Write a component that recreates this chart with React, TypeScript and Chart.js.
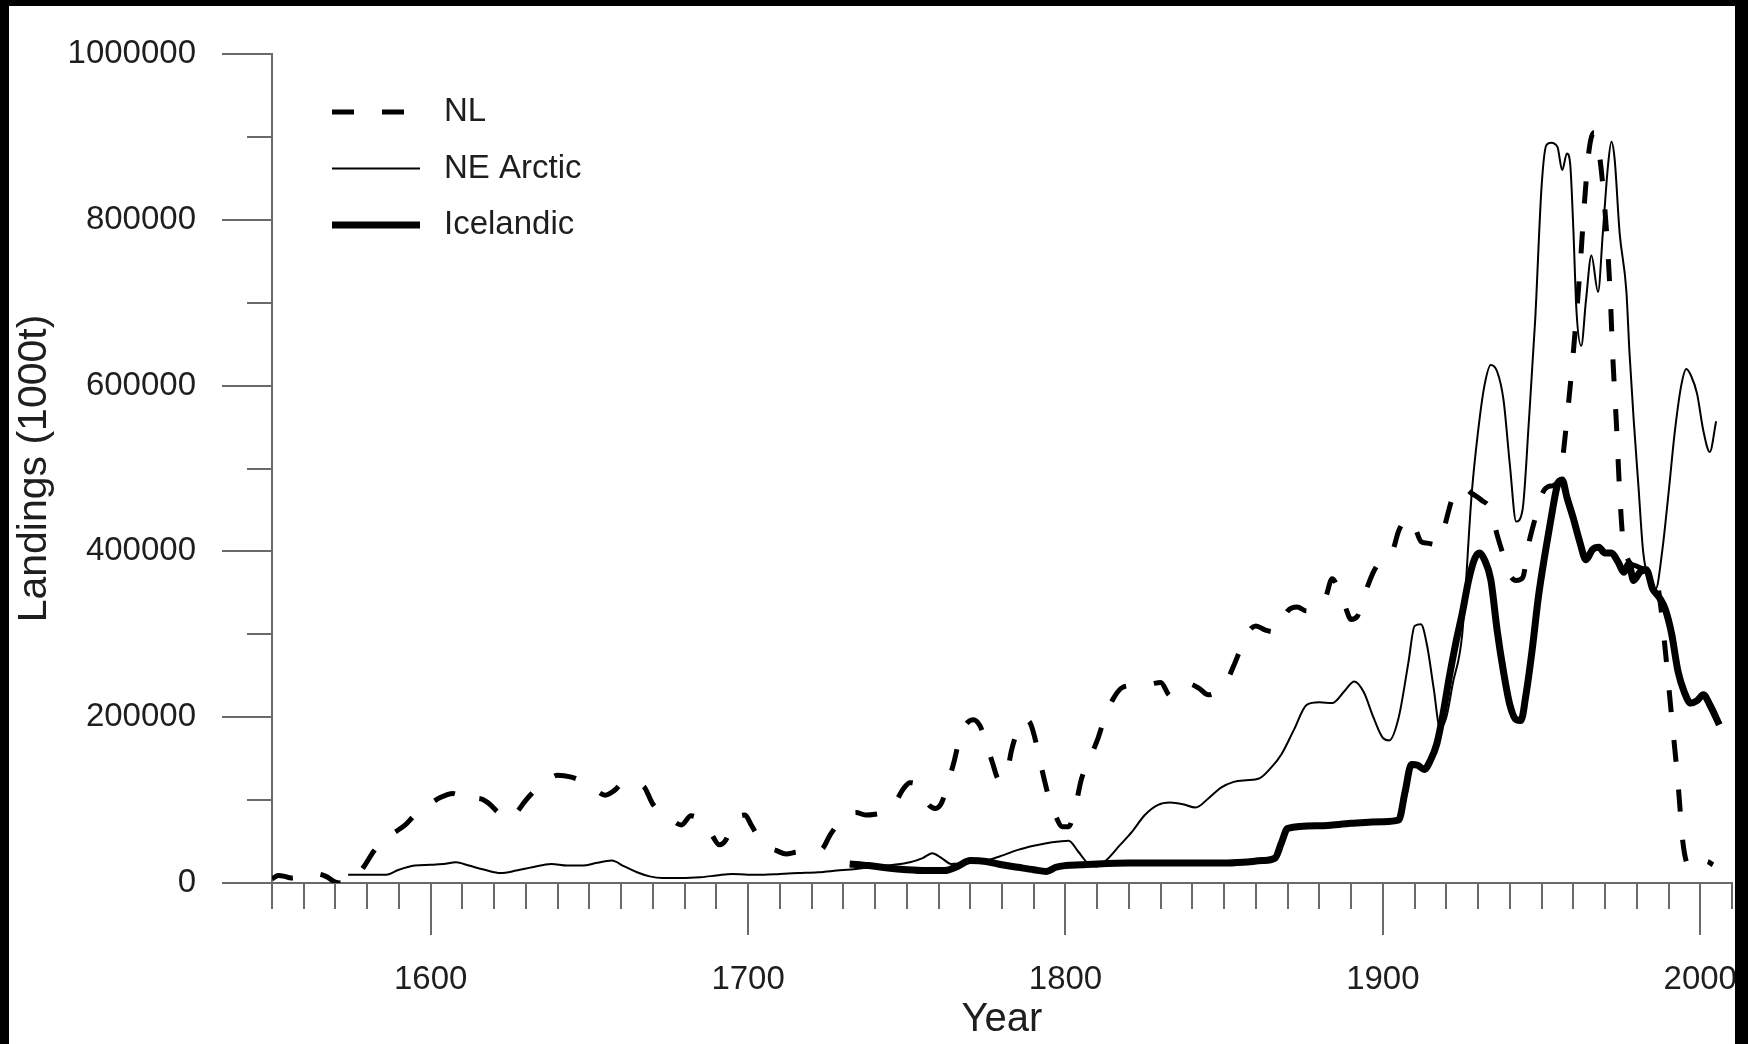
import React, { useEffect, useRef } from 'react';
import { Chart, registerables } from 'chart.js';

Chart.register(...registerables);

// ---- Data (tonnes) ----
const nlYears = [
  1550, 1552, 1554, 1556, 1560, 1564, 1567, 1570, 1573, 1576, 1579, 1582, 1586, 1589, 1592, 1595, 1599, 1603, 1607, 1610,
  1613, 1615, 1618, 1621, 1624, 1627, 1630, 1634, 1637, 1640, 1644, 1648, 1652, 1655, 1658, 1661, 1664, 1667, 1670, 1673,
  1676, 1679, 1682, 1685, 1688, 1691, 1693, 1695, 1697, 1699, 1701, 1703, 1706, 1709, 1712, 1715, 1719, 1723, 1726, 1730,
  1734, 1737, 1740, 1743, 1746, 1749, 1751, 1753, 1755, 1757, 1759, 1761, 1763, 1765, 1767, 1769, 1771, 1773, 1775, 1777,
  1779, 1781, 1783, 1785, 1787, 1789, 1791, 1793, 1795, 1797, 1799, 1801, 1803, 1805, 1807, 1810, 1812, 1815, 1818, 1821,
  1824, 1827, 1830, 1833, 1836, 1839, 1842, 1845, 1848, 1851, 1853, 1856, 1858, 1860, 1863, 1866, 1868, 1870, 1873, 1876,
  1879, 1882, 1884, 1886, 1888, 1890, 1892, 1894, 1897, 1900, 1903, 1905, 1908, 1910, 1912, 1914, 1917, 1919, 1922, 1925,
  1928, 1931, 1934, 1936, 1938, 1940, 1942, 1944, 1946, 1948, 1950, 1952, 1954, 1956, 1958, 1960, 1962, 1963.5, 1965, 1966.5,
  1968, 1970, 1971.5, 1972.5, 1973.5, 1974.5, 1975.5, 1977, 1980, 1983, 1986, 1987.5, 1989, 1991, 1993, 1994.5, 1996, 1998, 2000, 2002,
  2004,
];
const nlValues = [
  5000, 9000, 8000, 6000, 8000, 11000, 8000, 1000, 0, 6000, 20000, 38000, 55000, 62000, 70000, 82000, 93000, 103000, 108000, 103000,
  97000, 102000, 97000, 86000, 77000, 85000, 100000, 116000, 124000, 130000, 128000, 122000, 112000, 106000, 112000, 122000, 120000, 117000, 95000, 84000,
  76000, 70000, 81000, 76000, 62000, 46000, 52000, 70000, 80000, 82000, 70000, 57000, 44000, 39000, 35000, 37000, 38000, 40000, 59000, 78000,
  85000, 82000, 83000, 86000, 95000, 114000, 121000, 119000, 107000, 94000, 90000, 97000, 121000, 148000, 180000, 193000, 197000, 190000, 170000, 145000,
  125000, 125000, 160000, 185000, 197000, 192000, 165000, 130000, 100000, 80000, 68000, 68000, 90000, 125000, 145000, 172000, 195000, 222000, 236000, 238000,
  238000, 240000, 242000, 226000, 230000, 240000, 235000, 227000, 232000, 245000, 262000, 290000, 305000, 310000, 305000, 303000, 312000, 328000, 333000, 328000,
  332000, 345000, 367000, 355000, 335000, 318000, 322000, 345000, 375000, 392000, 400000, 425000, 440000, 430000, 412000, 410000, 408000, 425000, 465000, 478000,
  470000, 462000, 450000, 420000, 395000, 372000, 365000, 368000, 410000, 440000, 468000, 478000, 480000, 495000, 560000, 640000, 735000, 820000, 885000, 905000,
  885000, 810000, 720000, 630000, 560000, 480000, 420000, 392000, 382000, 378000, 370000, 335000, 280000, 200000, 120000, 50000, 22000, 17000, 21000, 26000,
  22000,
];

const arcticYears = [
  1574, 1580, 1586, 1590, 1595, 1600, 1604, 1608, 1612, 1617, 1622, 1627, 1632, 1638, 1643, 1648, 1652, 1657, 1661, 1665,
  1669, 1673, 1679, 1685, 1690, 1695, 1700, 1705, 1710, 1716, 1722, 1728, 1734, 1740, 1746, 1751, 1755, 1758, 1761, 1764,
  1768, 1772, 1776, 1780, 1785, 1790, 1794, 1798, 1801, 1804, 1807, 1810, 1813, 1817, 1821, 1825, 1829, 1833, 1837, 1841,
  1845, 1849, 1853, 1857, 1861, 1865, 1868, 1872, 1876, 1880, 1884, 1888, 1891, 1894, 1897, 1900, 1902, 1905, 1908, 1910,
  1912, 1914, 1916, 1918, 1920, 1922, 1925, 1928, 1930, 1932, 1934, 1936, 1938, 1940, 1942, 1944, 1946, 1948, 1950, 1951.5,
  1953, 1955, 1956.5, 1958, 1959, 1960, 1961, 1962.5, 1964, 1965.7, 1967.8, 1969.3, 1970.9, 1972, 1973, 1974.6, 1976.7, 1977.7, 1979, 1980.5,
  1982, 1984, 1986, 1988, 1990, 1992, 1994, 1995.6, 1997.2, 1999, 2001, 2003, 2005,
];
const arcticValues = [
  10000, 10000, 10000, 16000, 21000, 22000, 23000, 25000, 21000, 16000, 12000, 15000, 19000, 23000, 21000, 21000, 24000, 27000, 20000, 13000,
  8000, 6000, 6000, 7000, 9000, 11000, 10000, 10000, 11000, 12000, 13000, 15000, 17000, 20000, 22000, 25000, 30000, 36000, 30000, 23000,
  24000, 25000, 28000, 33000, 40000, 45000, 48000, 50000, 51000, 38000, 24000, 20000, 28000, 45000, 62000, 82000, 94000, 97000, 95000, 91000,
  102000, 115000, 122000, 124000, 126000, 140000, 155000, 185000, 215000, 218000, 217000, 232000, 243000, 230000, 200000, 175000, 172000, 200000, 265000, 310000,
  312000, 285000, 235000, 187000, 200000, 240000, 300000, 470000, 545000, 600000, 625000, 617000, 583000, 505000, 436000, 450000, 557000, 680000, 840000, 890000,
  893000, 888000, 860000, 880000, 868000, 790000, 690000, 648000, 703000, 757000, 713000, 784000, 864000, 894000, 874000, 784000, 715000, 640000, 560000, 480000,
  400000, 362000, 355000, 400000, 470000, 545000, 600000, 620000, 611000, 590000, 545000, 520000, 557000,
];

const icelandicYears = [
  1732, 1738, 1744, 1750, 1756, 1762, 1766, 1770, 1775, 1780, 1785, 1790, 1794, 1797, 1800, 1805, 1810, 1820, 1830, 1840,
  1850, 1856, 1862, 1866, 1868, 1870, 1880, 1890, 1900, 1905, 1907, 1909, 1911, 1913, 1915, 1917, 1919, 1921, 1923, 1925,
  1927, 1929, 1930.5, 1932, 1934, 1936, 1938, 1940, 1942, 1943.5, 1945, 1947, 1949, 1951, 1953, 1955, 1956.5, 1958, 1960, 1962,
  1964, 1966, 1968, 1970, 1972, 1974, 1976, 1977.5, 1979, 1981, 1983, 1985, 1987, 1989, 1991, 1993, 1995, 1997, 1999, 2001,
  2003, 2006,
];
const icelandicValues = [
  23000, 21000, 18000, 16000, 15000, 15000, 20000, 27000, 26000, 22000, 19000, 16000, 14000, 19000, 21000, 22000, 23000, 24000, 24000, 24000,
  24000, 25000, 27000, 30000, 48000, 66000, 69000, 72000, 74000, 76000, 110000, 143000, 142000, 137000, 148000, 168000, 205000, 250000, 290000, 325000,
  365000, 392000, 398000, 390000, 366000, 305000, 255000, 215000, 197000, 196000, 225000, 280000, 345000, 395000, 440000, 480000, 486000, 465000, 440000, 412000,
  390000, 402000, 405000, 398000, 398000, 388000, 375000, 385000, 365000, 375000, 378000, 355000, 345000, 330000, 300000, 255000, 230000, 217000, 220000, 227000,
  215000, 191000,
];

const seriesNames = ['NL', 'NE Arctic', 'Icelandic'];
const xLabelYears = [1600, 1700, 1800, 1900, 2000];
const yLabelValues = [0, 200000, 400000, 600000, 800000, 1000000];

const W = 1748;
const H = 1044;
const FONT = "'Liberation Sans', Arial, Helvetica, sans-serif";
const TEXT = '#1e1e1e';
const AXIS = '#6a6a6a';

const toPoints = (xs: number[], ys: number[]) => xs.map((x, i) => ({ x, y: ys[i] }));

const decorPlugin = {
  id: 'decor',
  beforeDraw(chart: any) {
    const ctx = chart.ctx;
    ctx.save();
    ctx.fillStyle = '#ffffff';
    ctx.fillRect(0, 0, W, H);
    ctx.restore();
  },
  afterDraw(chart: any) {
    const ctx = chart.ctx;
    const xs = chart.scales.x;
    const ys = chart.scales.y;
    const area = chart.chartArea;
    ctx.save();
    ctx.strokeStyle = AXIS;
    ctx.lineWidth = 2;
    ctx.setLineDash([]);
    ys.ticks.forEach((t: any) => {
      const py = Math.round(ys.getPixelForValue(t.value));
      const len = t.value % 200000 === 0 ? 50 : 25;
      ctx.beginPath();
      ctx.moveTo(area.left - len, py);
      ctx.lineTo(area.left, py);
      ctx.stroke();
    });
    xs.ticks.forEach((t: any) => {
      const px = Math.round(xs.getPixelForValue(t.value));
      const len = t.value % 100 === 0 ? 52 : 26;
      ctx.beginPath();
      ctx.moveTo(px, area.bottom);
      ctx.lineTo(px, area.bottom + len);
      ctx.stroke();
    });

    // legend
    const lx0 = area.left + 60;
    const ly0 = area.top + 58;
    const rowGap = 56.5;
    chart.data.datasets.forEach((ds: any, i: number) => {
      const y = ly0 + i * rowGap;
      ctx.beginPath();
      ctx.strokeStyle = '#000';
      ctx.lineWidth = ds.borderWidth;
      ctx.lineCap = 'butt';
      ctx.setLineDash(ds.borderDash || []);
      ctx.moveTo(lx0, y);
      ctx.lineTo(lx0 + (i === 0 ? 72 : 88), y);
      ctx.stroke();
      ctx.setLineDash([]);
      ctx.fillStyle = TEXT;
      ctx.font = `33px ${FONT}`;
      ctx.textAlign = 'left';
      ctx.textBaseline = 'middle';
      ctx.fillText(ds.label, lx0 + 112, y);
    });

    // black frame of the original picture
    ctx.fillStyle = '#000';
    ctx.fillRect(0, 0, W, 6);
    ctx.fillRect(0, 0, 9, H);
    ctx.fillRect(1735, 0, W - 1735, H);
    ctx.restore();
  },
};

export default function App() {
  const ref = useRef<HTMLCanvasElement | null>(null);

  useEffect(() => {
    if (!ref.current) return;
    const chart = new Chart(ref.current, {
      type: 'line',
      data: {
        datasets: [
          {
            label: seriesNames[0],
            data: toPoints(nlYears, nlValues),
            borderColor: '#000',
            borderWidth: 5,
            borderDash: [22, 28],
            pointRadius: 0,
            cubicInterpolationMode: 'monotone',
            fill: false,
          },
          {
            label: seriesNames[1],
            data: toPoints(arcticYears, arcticValues),
            borderColor: '#000',
            borderWidth: 2,
            pointRadius: 0,
            cubicInterpolationMode: 'monotone',
            fill: false,
          },
          {
            label: seriesNames[2],
            data: toPoints(icelandicYears, icelandicValues),
            borderColor: '#000',
            borderWidth: 7,
            pointRadius: 0,
            cubicInterpolationMode: 'monotone',
            fill: false,
          },
        ],
      },
      options: {
        animation: false,
        responsive: false,
        devicePixelRatio: 1,
        layout: { padding: { left: 0, top: 54, right: 16, bottom: 0 } },
        plugins: {
          legend: { display: false },
          tooltip: { enabled: false },
        },
        scales: {
          x: {
            type: 'linear',
            min: 1550,
            max: 2010,
            afterFit: (s: any) => {
              s.height = 161;
            },
            grid: { display: false, drawTicks: true, tickLength: 77 },
            border: { display: true, color: AXIS, width: 2 },
            ticks: {
              stepSize: 10,
              autoSkip: false,
              maxRotation: 0,
              minRotation: 0,
              padding: 0,
              color: TEXT,
              font: { family: FONT, size: 33 },
              callback: (v: any) => (xLabelYears.includes(Number(v)) ? String(v) : ''),
            },
            title: {
              display: true,
              text: 'Year',
              color: TEXT,
              font: { family: FONT, size: 40 },
              padding: { top: 0, bottom: 0 },
            },
          },
          y: {
            type: 'linear',
            min: 0,
            max: 1000000,
            afterFit: (s: any) => {
              s.width = 272;
            },
            grid: { display: false, drawTicks: true, tickLength: 76 },
            border: { display: true, color: AXIS, width: 2 },
            ticks: {
              stepSize: 100000,
              autoSkip: false,
              padding: 0,
              color: TEXT,
              font: { family: FONT, size: 33 },
              callback: (v: any) => (yLabelValues.includes(Number(v)) ? String(v) : ''),
            },
            title: {
              display: true,
              text: 'Landings (1000t)',
              color: TEXT,
              font: { family: FONT, size: 41 },
              padding: { top: 10, bottom: 0 },
            },
          },
        },
      },
      plugins: [decorPlugin],
    } as any);
    return () => chart.destroy();
  }, []);

  return (
    <div style={{ position: 'fixed', left: 0, top: 0, width: W, height: H, background: '#000' }}>
      <canvas ref={ref} width={W} height={H} style={{ display: 'block', width: W, height: H }} />
    </div>
  );
}
